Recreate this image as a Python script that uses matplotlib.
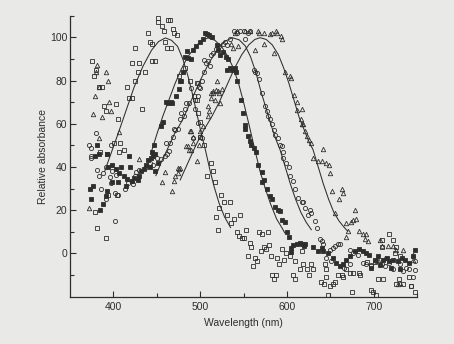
import numpy as np
import matplotlib.pyplot as plt

plt.rcParams['font.family'] = ['Liberation Sans', 'DejaVu Sans']

# open squares
sq_x = [376, 378, 380, 383, 387, 389, 391, 403, 405, 401, 406, 408, 393, 385, 381, 391, 379, 394, 404, 412,
        416, 418, 421, 425, 422, 430, 428, 433, 436, 425, 440, 442, 444, 444, 448, 451, 452, 456, 458, 459,
        463, 465, 469, 470, 473, 462, 466, 476, 482, 488, 493, 496, 498, 500, 505, 500, 496, 508, 513, 515,
        517, 524, 528, 534, 522, 518, 520, 531, 539, 546, 536, 542, 545, 548, 553, 551, 557, 559, 555, 563,
        561, 565, 568, 571, 578, 570, 574, 579, 576, 582, 588, 594, 596, 591, 583, 587, 585, 599, 604, 609,
        607, 609, 615, 619, 623, 628, 630, 625, 644, 645, 639, 643, 649, 653, 655, 645, 659, 663, 665, 668,
        672, 676, 684, 647, 675, 683, 697, 699, 703, 705, 711, 709, 709, 718, 722, 726, 724, 730, 729, 726,
        734, 741, 743, 748, 697, 692, 701, 617]
sq_y = [89, 82, 85, 77, 77, 68, 66, 69, 62, 51, 47, 51, 46, 47, 12, 7, 19, 27, 27, 48,
        77, 72, 72, 80, 88, 88, 84, 67, 84, 95, 102, 98, 97, 89, 89, 109, 107, 105, 103, 98,
        108, 108, 104, 102, 101, 95, 95, 82, 86, 80, 73, 71, 65, 54, 50, 61, 79, 36, 42, 38,
        33, 27, 24, 24, 21, 17, 11, 18, 16, 18, 14, 10, 8, 7, 11, 7, 5, 3, -1, -2,
        -6, -3.5, 10, 9, 10, 1, 3, 4, 2, -1, -2, 2, -3, -5, -10, -10, -12, 0, -1, -3.5,
        -10, -12, -7, -5, -7, -5, -7, -10, -5, -7, -13, -14, -15, -14, -13, -11, -10, -10, -11, -7,
        -9, -9, -10, -19, -18, -9, -17, -18, -19, -12, -12, 3, 6, 9, 6, 3, 0, -1, -12, -14,
        -14, -11, -15, -18, -6, -4, -4, 1]

# filled squares
fs_x = [373, 377, 374, 385, 388, 391, 393, 398, 394, 398, 403, 405, 409, 407, 412, 416, 419, 415, 421, 424,
        428, 430, 432, 435, 438, 440, 442, 443, 446, 448, 448, 452, 383.5, 378.5, 393, 418, 444, 381,
        447, 455, 457, 461, 463, 466, 468, 472, 476, 478, 477, 480, 482, 486, 489, 485, 492, 495, 500, 503,
        506, 508, 510, 514, 519, 521, 523, 526, 530, 532, 531, 534, 537, 540, 541, 543, 547, 549.6, 551.5,
        552, 554.6, 557, 559, 562, 564, 567, 571, 574, 571, 577, 580, 583, 586, 590, 592, 594, 598, 600,
        602, 604.5, 607, 611, 615, 617.5, 620, 605, 620.6, 630, 636, 640, 641, 647, 653, 657, 661, 665,
        668, 672, 678, 683, 688, 691.5, 695, 701, 705, 711, 715, 718, 722, 728, 732, 736, 740, 745, 747,
        707, 697, 730, 720]
fs_y = [30, 31, 25, 20, 23, 26.5, 29, 33, 40, 41, 39, 33, 40, 37, 36, 34.5, 40, 31, 33.5, 35,
        34, 36, 38, 39, 41, 43, 40, 44, 45, 46, 38, 42, 46, 45, 46, 45, 47, 50,
        50, 59, 61, 70, 69.5, 70, 69.5, 73, 76, 80, 80, 84, 91, 90.5, 90, 93.5, 94, 96, 98, 99,
        102, 101.5, 101, 100, 96.5, 94, 92, 93, 91, 90, 85, 86, 85, 86, 84, 80, 71, 65, 59.6,
        57.6, 54.5, 52, 50, 49, 47, 41, 37.6, 34, 33, 30, 26.5, 25, 21.5, 20, 19.5, 15.7, 14.5, 10,
        7.7, 2.6, 3.7, 4.6, 4.9, 4.2, 3.4, 0.6, 4.6, 3, 1, 2.6, 1, 0.3, -2, -4.3, -5.9, -5,
        -2.8, -1.2, 1, 2, 1, 0.3, -0.5, -2.8, -1.2, -2.8, -2, -3.5, -2.8, -3.5, -2, -2.8, -4.3, -1.2, 1.8,
        -5.5, -6.6, -7.4, -6.6]

# open circles
ci_x = [374, 381.6, 384, 386, 401.5, 391, 396, 397, 401.5, 405, 398, 403, 413, 417, 421, 422.6, 424.5, 426.5,
        429, 436, 442, 445.6, 450.6, 455, 459, 462, 463.7, 392, 388, 374.7, 380, 371.6, 374, 397.7,
        461, 464.8, 468.7, 471, 469.8, 475, 477, 478, 482, 484, 481, 487, 494, 497, 490, 499, 501.6, 504,
        507, 509, 512, 515, 518, 522, 526, 528.6, 530.6, 534, 539, 542, 546, 550.7, 554.6, 557, 551.5,
        561.6, 563.6, 566, 568, 571, 575, 577, 578, 580, 582.7, 584.6, 586.6, 589.6, 591.6, 594, 505, 511,
        498, 500, 494, 498, 492, 500, 502.6,
        595.6, 599, 602, 604, 607, 609, 613, 617, 595, 619, 621, 626, 628, 624, 632, 634, 637.6, 640,
        642, 649, 653, 655, 659, 661, 645, 651, 672, 676, 682, 688, 691.5, 697, 703, 709, 712.6, 718,
        722, 730, 733.6, 737.5, 741, 747, 745, 743, 747, 672, 666]
ci_y = [44, 38.8, 36, 30, 15, 25, 35.4, 32.7, 28, 27, 38, 36.5, 30, 32.7, 33.4, 31.9, 35.7, 37.6,
        38.5, 39.6, 42, 40.7, 44, 43.5, 45, 46, 47.3, 40, 37, 45.3, 55.8, 50, 49, 50.4,
        51, 51, 54, 57, 57.6, 57.6, 62, 65, 67, 69.6, 63.5, 69.6, 71, 73, 76.6, 77, 80, 84,
        88, 89, 92, 92.8, 94.6, 95.8, 97, 98, 96.5, 99, 103, 102, 102.8, 103, 102, 102.8, 99,
        85, 84, 83.5, 80.7, 74, 68, 65.8, 63.8, 62, 60, 57, 55, 53.5, 50, 49.6, 89.7, 86.6,
        78.9, 76.6, 67, 60.4, 53.5, 54, 53.5,
        44, 42, 40, 35.7, 33.4, 29.6, 25.7, 24, 47, 23.7, 21, 20, 18.8, 18, 15, 12, 6.8, 5.7,
        4.2, 1.8, 2.6, 3.4, 4.2, 4.6, -2, -3.5, 1.8, 0.3, -0.5, -4.3, -5, -5.5, -3.5, -5, -5.9, -4.3,
        -7.4, -5, -8, -6.6, -7.4, -7.7, -10.8, -15, -3.5, -5, -6.6]

# open triangles
tr_x = [381.6, 380, 392, 394, 384, 379, 394.6, 376.6, 387, 397.7, 384, 407, 372, 430, 459, 456, 468, 470,
        471.5, 474, 474, 476, 484, 492, 500, 509, 512, 515, 521.6, 525, 519, 512, 515, 518, 521, 517,
        522.7, 510, 509, 503.6, 490, 492, 498.6, 487, 488, 486, 490, 496.7, 476.7,
        536, 538, 544, 540, 543, 552, 557, 566.6, 568, 574, 580, 583, 586.8, 589, 593, 594, 585, 563.6,
        574, 597.5, 603, 605, 608, 611, 612, 616, 617.5, 617, 619, 621, 623, 625.6, 628, 642,
        630, 636, 640, 645, 648.6, 650, 652, 663, 664, 660, 655, 678, 676, 674, 680, 668.5, 670, 668.5,
        683, 688, 690, 693, 691.5, 707, 710, 716.6, 722, 726, 734, 745, 745, 730, 728, 705, 712.6]
tr_y = [87, 84, 84, 80, 77, 73, 70, 64.7, 63, 65.8, 53.5, 56, 21, 43.5, 37.6, 33, 29, 33.4,
        35.7, 37, 39.6, 39, 49.6, 54, 56.5, 68, 72, 74, 74, 76, 79.7, 74, 75, 75.8, 75, 71,
        69.6, 65.8, 63.8, 59, 56.5, 51, 50.4, 48, 56.5, 49.6, 48, 42.7, 39.6,
        97, 95, 95.8, 102, 103, 102.8, 103, 103, 102, 102, 101.7, 102, 102.8, 102, 100.8, 99, 92.8, 94,
        97, 84, 82, 81, 73.5, 70, 66.5, 62, 60, 66.6, 60, 56.5, 54.5, 52.7, 51, 48.4,
        44, 42.7, 42.7, 42, 41, 37, 29, 29.6, 28, 25, 18.8, 19.9, 15.7, 14.5, 16, 13.9, 10.3, 7.7,
        10.3, 8.8, 6.5, 5.7, 8.8, 6.2, 3.4, 3.4, 3.4, 1.8, 1.8, -0.5, -2.8, -13.6, -14.3, -2.8, -2]

# template curves
ca_x = [390, 398, 406, 415, 424, 434, 444, 452, 460, 467, 474, 480, 486, 491, 496, 501, 506, 511, 516, 522, 528, 535]
ca_y = [38, 47, 56, 66.5, 77, 86.5, 94, 98, 99.7, 98.6, 95.8, 90, 82, 74, 65, 56, 48, 39, 31, 23, 17, 12]
cb_x = [443, 450, 457, 464, 471, 478, 485, 493, 501, 509, 517, 525, 532, 538, 544, 550, 556, 563, 569, 575, 581, 588, 594, 597.5]
cb_y = [46, 55, 63.5, 71, 78.5, 85, 90.5, 95, 98.3, 99.7, 98.6, 95.5, 91, 86, 79, 70, 60, 48, 38, 30, 23, 16, 12, 9.5]
cc_x = [449, 455, 462, 470, 480, 490, 500, 510, 520, 528, 537, 545, 552, 558, 564, 570, 576, 582, 587, 592, 598, 604, 610, 616, 622, 628]
cc_y = [36, 42, 48, 55, 62, 71, 80, 88, 94.5, 98, 99.8, 98.8, 96, 91, 84, 75, 67, 59, 53, 48, 40, 32, 25, 19, 14.5, 11]
cd_x = [477, 486, 495, 504, 513, 522, 531, 540, 548, 556, 563, 569, 576, 583, 590, 596, 602, 608, 614, 620, 625, 630, 636, 642, 648, 654, 660, 666, 670]
cd_y = [34, 42, 50, 57, 63, 70, 78, 86, 92, 96.5, 99, 99.8, 99, 96.5, 92, 86, 79, 71, 63, 57, 52, 48, 40, 32, 25, 19, 15, 12, 10.3]

bg = '#e9e9e7'
ink = '#2e2e2e'

fig = plt.figure(figsize=(4.54, 3.44), dpi=100, facecolor=bg)
ax = fig.add_axes([0.154, 0.1375, 0.765, 0.817])
ax.set_facecolor(bg)

for cx, cy in [(ca_x, ca_y), (cb_x, cb_y), (cc_x, cc_y), (cd_x, cd_y)]:
    ax.plot(cx, cy, color=ink, lw=0.75)

ax.plot(sq_x, sq_y, ls='none', marker='s', ms=3.0, mfc='none', mec=ink, mew=0.6)
ax.plot(fs_x, fs_y, ls='none', marker='s', ms=3.0, mfc=ink, mec=ink, mew=0.6)
ax.plot(ci_x, ci_y, ls='none', marker='o', ms=3.0, mfc='none', mec=ink, mew=0.6)
ax.plot(tr_x, tr_y, ls='none', marker='^', ms=3.2, mfc='none', mec=ink, mew=0.6)

ax.set_xlim(350, 750)
ax.set_ylim(-20, 110)
ax.set_xticks([400, 500, 600, 700])
ax.set_xticks([450, 550, 650, 750], minor=True)
ax.set_yticks([0, 20, 40, 60, 80, 100])
ax.set_yticks([-10, 10, 30, 50, 70, 90, 110], minor=True)
ax.spines['top'].set_visible(False)
ax.spines['right'].set_visible(False)
for s in ['left', 'bottom']:
    ax.spines[s].set_color(ink)
    ax.spines[s].set_linewidth(0.9)
ax.tick_params(which='both', direction='in', color=ink, width=0.8, labelsize=7.5, labelcolor=ink)
ax.tick_params(which='major', length=4)
ax.tick_params(which='minor', length=3)
ax.tick_params(axis='y', pad=2)
ax.tick_params(axis='x', pad=4)

ax.set_xlabel('Wavelength (nm)', fontsize=7.5, color=ink, labelpad=4)
ax.set_ylabel('Relative absorbance', fontsize=7.5, color=ink, labelpad=1.5)

fig.savefig('out.png', dpi=100, facecolor=bg)
